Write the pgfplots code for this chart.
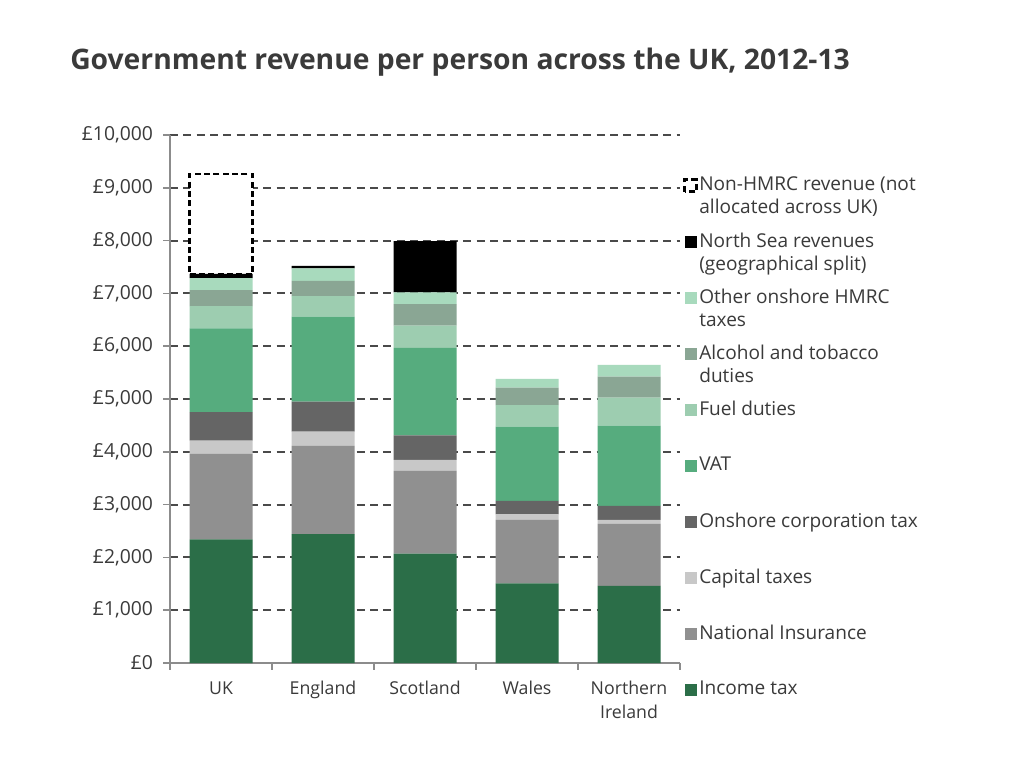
\documentclass[border=0pt]{standalone}
\usepackage{pgfplots}
\pgfplotsset{compat=1.18}
\usepackage{pgfplotstable}
\usepackage{fontspec}
\setmainfont{Open Sans}
\definecolor{cinc}{HTML}{2B6E48}
\definecolor{cni}{HTML}{909090}
\definecolor{ccap}{HTML}{C8C8C8}
\definecolor{ccorp}{HTML}{656565}
\definecolor{cvat}{HTML}{56AC7E}
\definecolor{cfuel}{HTML}{9DCDB0}
\definecolor{calc}{HTML}{8AA694}
\definecolor{coth}{HTML}{A8DABD}
\definecolor{cgrid}{HTML}{4A4A4A}
\definecolor{caxis}{HTML}{8C8C8C}
\definecolor{ctext}{HTML}{3A3A3A}
\pgfplotstableread{
x inc ni cap corp vat fuel alc oth ns
0 2340 1620 250 540 1590 420 300 230 80
1 2440 1670 270 570 1610 390 285 240 45
2 2070 1570 205 465 1660 420 405 225 970
3 1510 1200 105 255 1405 410 330 165 0
4 1460 1175 75 265 1520 530 400 220 0
}\data
\newcommand{\legtxt}[1]{\parbox[t]{220pt}{\fontsize{14.3}{17.25}\selectfont\color{ctext}#1}}
\begin{document}
\begin{tikzpicture}
\path[use as bounding box, fill=white] (0pt,0pt) rectangle (768pt,576.75pt);
\node[anchor=base west, font=\fontsize{21.2}{25}\selectfont\bfseries, text=ctext, inner sep=0] at (52.5pt,524.25pt) {Government revenue per person across the UK, 2012-13};
\begin{axis}[
  at={(127.5pt,79.5pt)}, anchor=south west,
  scale only axis, width=382.5pt, height=396pt,
  xmin=-0.5, xmax=4.5, ymin=0, ymax=10000,
  ybar stacked, bar width=47.25pt,
  axis x line*=bottom, axis y line*=left,
  axis line style={caxis, line width=1.5pt, -},
  xtick={0,1,2,3,4},
  xticklabels={UK,England,Scotland,Wales,Northern\\Ireland},
  major x tick style={draw=none},
  minor xtick={-0.5,0.5,1.5,2.5,3.5,4.5},
  minor x tick style={caxis, line width=1.2pt},
  minor tick length=5pt,
  xticklabel style={align=center, font=\fontsize{13.3}{18}\selectfont, text=ctext, yshift=-5pt},
  ytick={0,1000,...,10000},
  scaled y ticks=false,
  yticklabels={£0,{£1,000},{£2,000},{£3,000},{£4,000},{£5,000},{£6,000},{£7,000},{£8,000},{£9,000},{£10,000}},
  yticklabel style={font=\fontsize{14.5}{16}\selectfont, text=ctext, xshift=-4pt},
  major y tick style={caxis, line width=1.2pt},
  tick align=outside, major tick length=5.25pt,
  ymajorgrids, grid style={cgrid, line width=1.5pt, dash pattern=on 6pt off 4pt},
  clip=false,
  reverse legend,
  legend cell align=left,
  legend style={at={(1.006,0.9485)}, anchor=north west, draw=none, fill=none, inner sep=0pt, row sep=0pt, column sep=1pt,
    nodes={inner sep=0pt, text height=11pt, text depth=31pt}},
  legend image code/.code={\path[#1] (0pt,-1pt) rectangle (9pt,8pt);},
]
\addplot[fill=cinc, draw=none] table[x=x, y=inc] {\data};
\addlegendentry{\legtxt{Income tax}}
\addplot[fill=cni, draw=none] table[x=x, y=ni] {\data};
\addlegendentry{\legtxt{National Insurance}}
\addplot[fill=ccap, draw=none] table[x=x, y=cap] {\data};
\addlegendentry{\legtxt{Capital taxes}}
\addplot[fill=ccorp, draw=none] table[x=x, y=corp] {\data};
\addlegendentry{\legtxt{Onshore corporation tax}}
\addplot[fill=cvat, draw=none] table[x=x, y=vat] {\data};
\addlegendentry{\legtxt{VAT}}
\addplot[fill=cfuel, draw=none] table[x=x, y=fuel] {\data};
\addlegendentry{\legtxt{Fuel duties}}
\addplot[fill=calc, draw=none] table[x=x, y=alc] {\data};
\addlegendentry{\legtxt{Alcohol and tobacco\\duties}}
\addplot[fill=coth, draw=none] table[x=x, y=oth] {\data};
\addlegendentry{\legtxt{Other onshore HMRC\\taxes}}
\addplot[fill=black, draw=none] table[x=x, y=ns] {\data};
\addlegendentry{\legtxt{North Sea revenues\\(geographical split)}}
\addplot[fill=white, draw=black, line width=2pt, dash pattern=on 4.5pt off 2.5pt] coordinates {(0,1890)};
\addlegendentry{\legtxt{Non-HMRC revenue (not\\allocated across UK)}}
\end{axis}
\end{tikzpicture}
\end{document}
